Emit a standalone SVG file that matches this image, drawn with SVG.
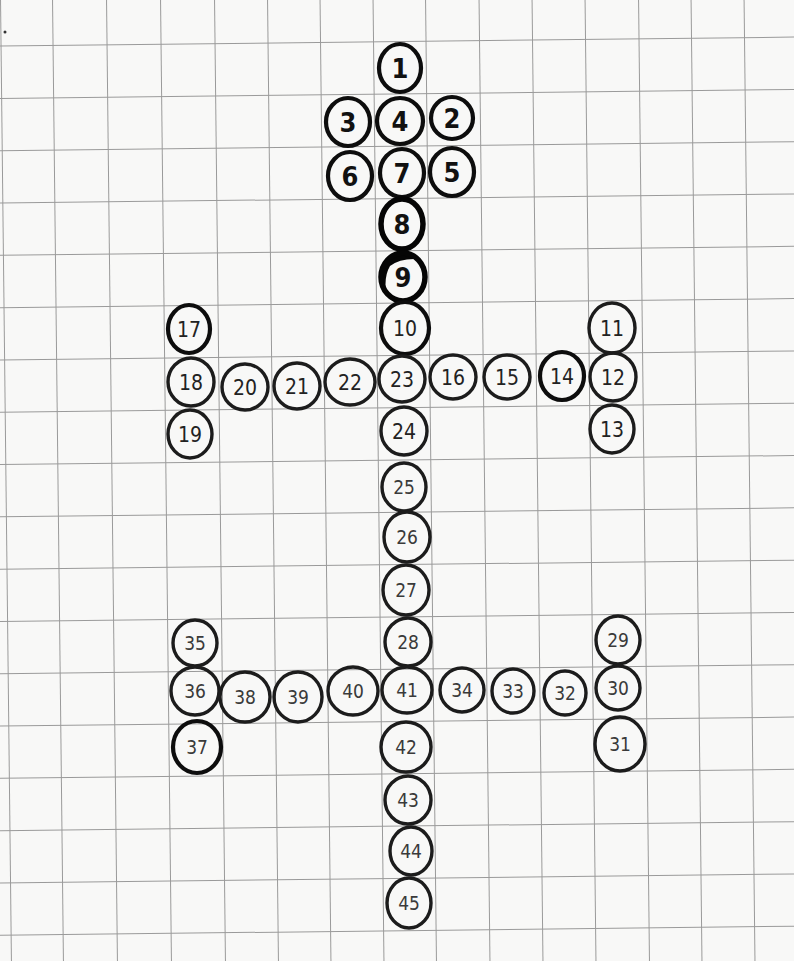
<svg xmlns="http://www.w3.org/2000/svg" width="794" height="961" viewBox="0 0 794 961">
<style>
.bg{fill:#f8f8f7}
.grid line{stroke:#9a9a9a;stroke-width:1}
.c{fill:none;stroke:#1c1c1c;stroke-width:3.4}
.ct{fill:none;stroke:#0d0d0d;stroke-width:4.2}
.cb{fill:none;stroke:#050505;stroke-width:5.5}
.t{font-family:"Liberation Sans Narrow","DejaVu Sans Condensed","Liberation Sans",sans-serif;text-anchor:middle;fill:#111}
.t1{font-size:27px;font-weight:bold}
.t2{font-size:21px;fill:#222}
.t3{font-size:19px;fill:#3a3a3a}
</style>
<rect class="bg" x="0" y="0" width="794" height="961"/>
<g class="grid" transform="rotate(-0.65 400 480)">
<line x1="6" y1="-60" x2="6" y2="1020"/>
<line x1="58" y1="-60" x2="58" y2="1020"/>
<line x1="112" y1="-60" x2="112" y2="1020"/>
<line x1="166" y1="-60" x2="166" y2="1020"/>
<line x1="220" y1="-60" x2="220" y2="1020"/>
<line x1="273" y1="-60" x2="273" y2="1020"/>
<line x1="325.5" y1="-60" x2="325.5" y2="1020"/>
<line x1="378.5" y1="-60" x2="378.5" y2="1020"/>
<line x1="431" y1="-60" x2="431" y2="1020"/>
<line x1="484.5" y1="-60" x2="484.5" y2="1020"/>
<line x1="537.5" y1="-60" x2="537.5" y2="1020"/>
<line x1="590.5" y1="-60" x2="590.5" y2="1020"/>
<line x1="644" y1="-60" x2="644" y2="1020"/>
<line x1="696.5" y1="-60" x2="696.5" y2="1020"/>
<line x1="749.5" y1="-60" x2="749.5" y2="1020"/>
<line x1="-60" y1="41.6" x2="860" y2="41.6"/>
<line x1="-60" y1="93.9" x2="860" y2="93.9"/>
<line x1="-60" y1="146.2" x2="860" y2="146.2"/>
<line x1="-60" y1="198.5" x2="860" y2="198.5"/>
<line x1="-60" y1="250.8" x2="860" y2="250.8"/>
<line x1="-60" y1="303.1" x2="860" y2="303.1"/>
<line x1="-60" y1="355.4" x2="860" y2="355.4"/>
<line x1="-60" y1="407.7" x2="860" y2="407.7"/>
<line x1="-60" y1="460" x2="860" y2="460"/>
<line x1="-60" y1="512.3" x2="860" y2="512.3"/>
<line x1="-60" y1="564.6" x2="860" y2="564.6"/>
<line x1="-60" y1="616.9" x2="860" y2="616.9"/>
<line x1="-60" y1="669.2" x2="860" y2="669.2"/>
<line x1="-60" y1="721.5" x2="860" y2="721.5"/>
<line x1="-60" y1="773.8" x2="860" y2="773.8"/>
<line x1="-60" y1="826.1" x2="860" y2="826.1"/>
<line x1="-60" y1="878.4" x2="860" y2="878.4"/>
<line x1="-60" y1="930.7" x2="860" y2="930.7"/>
</g>
<circle cx="5" cy="32" r="1.5" fill="#333"/>
<g id="connectors"/>
<g id="nodes">
<g id="n1"><ellipse class="ct" cx="400" cy="68" rx="21" ry="24"/><text class="t t1" x="400" y="78">1</text></g>
<g id="n2"><ellipse class="ct" cx="452" cy="118" rx="21" ry="21"/><text class="t t1" x="452" y="128">2</text></g>
<g id="n3"><ellipse class="ct" cx="348" cy="122" rx="22" ry="24"/><text class="t t1" x="348" y="132">3</text></g>
<g id="n4"><ellipse class="ct" cx="400" cy="121" rx="23" ry="23"/><text class="t t1" x="400" y="131">4</text></g>
<g id="n5"><ellipse class="ct" cx="452" cy="172" rx="22" ry="24"/><text class="t t1" x="452" y="182">5</text></g>
<g id="n6"><ellipse class="ct" cx="350" cy="176" rx="22" ry="24"/><text class="t t1" x="350" y="186">6</text></g>
<g id="n7"><ellipse class="ct" cx="402" cy="173" rx="22" ry="24"/><text class="t t1" x="402" y="183">7</text></g>
<g id="n8"><ellipse class="cb" cx="402" cy="224" rx="21" ry="25"/><text class="t t1" x="402" y="234">8</text></g>
<g id="n9"><path d="M381 270 A22 24 0 0 1 418 259 Q400 258 390 266 Q384 276 386 292 Q380 282 381 270 Z" fill="#050505"/><ellipse class="cb" cx="403" cy="277" rx="22" ry="24"/><text class="t t1" x="403" y="287">9</text></g>
<g id="n10"><ellipse class="ct" cx="405" cy="328" rx="24" ry="26"/><text class="t t2" x="405" y="336">10</text></g>
<g id="n11"><ellipse class="c" cx="612" cy="328" rx="23" ry="25"/><text class="t t2" x="612" y="336">11</text></g>
<g id="n12"><ellipse class="c" cx="613" cy="377" rx="23" ry="24"/><text class="t t2" x="613" y="385">12</text></g>
<g id="n13"><ellipse class="c" cx="612" cy="429" rx="22" ry="24"/><text class="t t2" x="612" y="437">13</text></g>
<g id="n14"><ellipse class="ct" cx="562" cy="376" rx="22" ry="24"/><text class="t t2" x="562" y="384">14</text></g>
<g id="n15"><ellipse class="c" cx="507" cy="377" rx="23" ry="22"/><text class="t t2" x="507" y="385">15</text></g>
<g id="n16"><ellipse class="c" cx="453" cy="377" rx="23" ry="22"/><text class="t t2" x="453" y="385">16</text></g>
<g id="n17"><ellipse class="ct" cx="189" cy="329" rx="21" ry="24"/><text class="t t2" x="189" y="337">17</text></g>
<g id="n18"><ellipse class="c" cx="191" cy="382" rx="23" ry="24"/><text class="t t2" x="191" y="390">18</text></g>
<g id="n19"><ellipse class="c" cx="190" cy="434" rx="22" ry="24"/><text class="t t2" x="190" y="442">19</text></g>
<g id="n20"><ellipse class="c" cx="245" cy="387" rx="23" ry="23"/><text class="t t2" x="245" y="395">20</text></g>
<g id="n21"><ellipse class="c" cx="297" cy="386" rx="23" ry="23"/><text class="t t2" x="297" y="394">21</text></g>
<g id="n22"><ellipse class="c" cx="350" cy="382" rx="25" ry="23"/><text class="t t2" x="350" y="390">22</text></g>
<g id="n23"><ellipse class="c" cx="402" cy="379" rx="23" ry="23"/><text class="t t2" x="402" y="387">23</text></g>
<g id="n24"><ellipse class="c" cx="404" cy="431" rx="23" ry="24"/><text class="t t2" x="404" y="439">24</text></g>
<g id="n25"><ellipse class="c" cx="404" cy="487" rx="22" ry="24"/><text class="t t3" x="404" y="494">25</text></g>
<g id="n26"><ellipse class="c" cx="407" cy="537" rx="23" ry="25"/><text class="t t3" x="407" y="544">26</text></g>
<g id="n27"><ellipse class="c" cx="406" cy="590" rx="23" ry="25"/><text class="t t3" x="406" y="597">27</text></g>
<g id="n28"><ellipse class="c" cx="408" cy="642" rx="23" ry="24"/><text class="t t3" x="408" y="649">28</text></g>
<g id="n29"><ellipse class="c" cx="618" cy="640" rx="22" ry="24"/><text class="t t3" x="618" y="647">29</text></g>
<g id="n30"><ellipse class="c" cx="618" cy="688" rx="22" ry="22"/><text class="t t3" x="618" y="695">30</text></g>
<g id="n31"><ellipse class="c" cx="620" cy="744" rx="25" ry="27"/><text class="t t3" x="620" y="751">31</text></g>
<g id="n32"><ellipse class="c" cx="565" cy="693" rx="21" ry="22"/><text class="t t3" x="565" y="700">32</text></g>
<g id="n33"><ellipse class="c" cx="513" cy="691" rx="21" ry="22"/><text class="t t3" x="513" y="698">33</text></g>
<g id="n34"><ellipse class="c" cx="462" cy="690" rx="22" ry="22"/><text class="t t3" x="462" y="697">34</text></g>
<g id="n35"><ellipse class="c" cx="195" cy="643" rx="22" ry="23"/><text class="t t3" x="195" y="650">35</text></g>
<g id="n36"><ellipse class="c" cx="195" cy="691" rx="24" ry="24"/><text class="t t3" x="195" y="698">36</text></g>
<g id="n37"><ellipse class="ct" cx="197" cy="747" rx="24" ry="26"/><text class="t t3" x="197" y="754">37</text></g>
<g id="n38"><ellipse class="c" cx="245" cy="697" rx="25" ry="25"/><text class="t t3" x="245" y="704">38</text></g>
<g id="n39"><ellipse class="c" cx="298" cy="697" rx="24" ry="25"/><text class="t t3" x="298" y="704">39</text></g>
<g id="n40"><ellipse class="c" cx="353" cy="691" rx="25" ry="24"/><text class="t t3" x="353" y="698">40</text></g>
<g id="n41"><ellipse class="c" cx="407" cy="690" rx="25" ry="23"/><text class="t t3" x="407" y="697">41</text></g>
<g id="n42"><ellipse class="c" cx="406" cy="747" rx="25" ry="25"/><text class="t t3" x="406" y="754">42</text></g>
<g id="n43"><ellipse class="c" cx="408" cy="800" rx="23" ry="24"/><text class="t t3" x="408" y="807">43</text></g>
<g id="n44"><ellipse class="c" cx="411" cy="851" rx="21" ry="24"/><text class="t t3" x="411" y="858">44</text></g>
<g id="n45"><ellipse class="c" cx="409" cy="903" rx="22" ry="25"/><text class="t t3" x="409" y="910">45</text></g>
</g>
</svg>
